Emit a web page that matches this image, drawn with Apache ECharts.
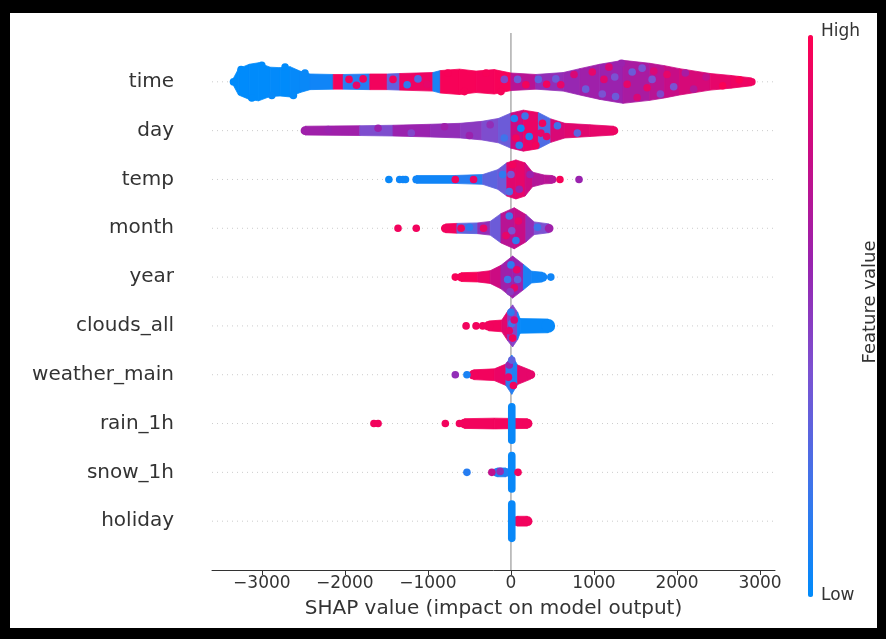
<!DOCTYPE html>
<html>
<head>
<meta charset="utf-8">
<script src="https://cdn.jsdelivr.net/npm/echarts@6/dist/echarts.min.js"></script>
<style>
  html, body { margin: 0; padding: 0; background: #fff; }
  #chart { width: 886px; height: 639px; }
</style>
</head>
<body>
<div id="chart"></div>
<script>
// rows from bottom (0) to top (9)
const features = ["holiday", "snow_1h", "rain_1h", "weather_main", "clouds_all", "year", "month", "temp", "day", "time"];
const xTicks = [-3000, -2000, -1000, 0, 1000, 2000, 3000];

// swarm outline per feature: [shap value, half spread (rows), feature value 0..1]
const timeBand = [
  [-3340, 0.08, 0.0], [-3280, 0.27, 0.0], [-3150, 0.36, 0.0], [-3040, 0.39, 0.0], [-2900, 0.30, 0.01],
  [-2780, 0.29, 0.0], [-2660, 0.31, 0.02], [-2540, 0.22, 0.03], [-2420, 0.16, 0.05], [-2140, 0.15, 0.96],
  [-2020, 0.15, 0.12], [-1700, 0.16, 0.95], [-1490, 0.16, 0.32], [-1340, 0.17, 0.93], [-940, 0.19, 0.08],
  [-850, 0.23, 0.97], [-620, 0.26, 0.97], [-420, 0.22, 0.96], [-200, 0.25, 0.97], [0, 0.18, 0.72],
  [300, 0.15, 0.55], [630, 0.19, 0.58], [830, 0.27, 0.62], [1070, 0.36, 0.6], [1350, 0.44, 0.66],
  [1670, 0.38, 0.72], [1850, 0.33, 0.78], [2030, 0.27, 0.84], [2400, 0.17, 0.9], [2650, 0.13, 0.93],
  [2900, 0.08, 0.94],
];
const dayBand = [
  [-2480, 0.09, 0.62], [-1820, 0.1, 0.42], [-1420, 0.11, 0.6], [-970, 0.13, 0.55], [-610, 0.15, 0.5],
  [-350, 0.19, 0.42], [-150, 0.25, 0.35], [0, 0.36, 0.8], [150, 0.42, 0.92], [330, 0.37, 0.25],
  [480, 0.24, 0.85], [650, 0.15, 0.88], [950, 0.12, 0.9], [1240, 0.09, 0.93],
];
const tempBand = [
  [-1140, 0.08, 0.05], [-700, 0.08, 0.12], [-340, 0.1, 0.3], [-160, 0.2, 0.35], [-50, 0.34, 0.88],
  [60, 0.4, 0.9], [170, 0.34, 0.8], [260, 0.15, 0.7], [400, 0.09, 0.72], [500, 0.08, 0.7],
];
const monthBand = [
  [-790, 0.09, 0.95], [-650, 0.1, 0.3], [-400, 0.11, 0.55], [-250, 0.14, 0.35], [-120, 0.3, 0.72],
  [40, 0.42, 0.78], [180, 0.28, 0.55], [280, 0.13, 0.4], [460, 0.09, 0.62],
];
const yearBand = [
  [-600, 0.09, 0.97], [-400, 0.1, 0.92], [-250, 0.13, 0.8], [-120, 0.24, 0.62], [20, 0.43, 0.6],
  [150, 0.26, 0.08], [250, 0.12, 0.05], [380, 0.1, 0.05],
];
const cloudsBand = [
  [-270, 0.1, 0.95], [-110, 0.12, 0.88], [-40, 0.3, 0.5], [20, 0.43, 0.45], [80, 0.28, 0.05],
  [110, 0.15, 0.02], [450, 0.14, 0.02],
];
const weatherBand = [
  [-450, 0.1, 0.95], [-200, 0.12, 0.92], [-60, 0.22, 0.15], [10, 0.4, 0.1], [80, 0.2, 0.9], [240, 0.09, 0.9],
];
const rainBand = [[-560, 0.1, 0.95], [-200, 0.11, 0.95], [200, 0.1, 0.95]];
const snowBand = [[-170, 0.09, 0.1], [-60, 0.09, 0.1]];
const holidayBand = [[70, 0.1, 0.95], [200, 0.1, 0.95]];

// single points: [shap value, offset (rows), feature value]
const timeDots = [
  [-3250, 0.25, 0.0], [-3120, -0.33, 0.0], [-3000, 0.34, 0.0], [-2880, -0.28, 0.02], [-2720, 0.3, 0.0],
  [-2620, -0.28, 0.02], [-2480, 0.18, 0.03], [-1950, 0.05, 0.95], [-1860, -0.07, 0.9], [-1780, 0.06, 0.95],
  [-1420, 0.05, 0.95], [-1250, -0.06, 0.15], [-1120, 0.06, 0.25], [-1010, -0.05, 0.9], [-760, 0.18, 0.97],
  [-560, -0.2, 0.97], [-300, 0.18, 0.97], [-120, -0.2, 0.97], [-80, 0.05, 0.45], [80, 0.05, 0.35],
  [180, -0.06, 0.95], [330, 0.05, 0.3], [430, -0.05, 0.95], [540, 0.06, 0.35], [600, -0.06, 0.9],
  [760, 0.15, 0.85], [900, -0.15, 0.35], [980, 0.2, 0.9], [1100, -0.25, 0.4], [1180, 0.3, 0.85],
  [1260, -0.3, 0.35], [1330, 0.38, 0.6], [1400, -0.05, 0.9], [1460, 0.2, 0.35], [1520, -0.32, 0.85],
  [1580, 0.28, 0.4], [1640, -0.12, 0.9], [1720, 0.22, 0.85], [1800, -0.25, 0.45], [1880, 0.15, 0.9],
  [1960, -0.1, 0.4], [1250, 0.1, 0.4], [1120, 0.05, 0.88], [1700, 0.05, 0.4], [2100, 0.18, 0.65],
  [2200, -0.15, 0.7], [2350, 0.1, 0.75], [2550, -0.08, 0.98], [2750, 0.04, 0.98],
];
const dayDots = [
  [-2200, 0.02, 0.6], [-1600, 0.05, 0.6], [-1200, -0.05, 0.45], [-800, 0.08, 0.62], [-500, -0.1, 0.6],
  [-250, 0.12, 0.55], [-80, -0.15, 0.2], [40, 0.25, 0.1], [100, -0.3, 0.15], [170, 0.3, 0.2],
  [220, -0.12, 0.1], [120, 0.05, 0.05], [260, 0.28, 0.9], [300, -0.3, 0.95], [380, 0.15, 0.95],
  [430, -0.12, 0.9], [360, -0.05, 0.9], [60, -0.15, 0.95], [560, 0.1, 0.2], [800, -0.05, 0.3],
];
const tempDots = [
  [-1470, 0, 0.03], [-1340, 0, 0.04], [-1300, 0, 0.05], [-1270, 0, 0.04], [-670, 0, 0.95], [-450, 0, 0.92],
  [590, 0, 0.97], [820, 0, 0.6], [-100, 0.1, 0.15], [-20, -0.25, 0.25], [20, 0.3, 0.95], [0, 0.1, 0.4],
  [100, -0.2, 0.6], [230, 0.1, 0.6],
];
const monthDots = [
  [-1360, 0, 0.95], [-1140, 0, 0.95], [-600, 0, 0.95], [-500, 0.02, 0.15], [-330, 0, 0.9], [-20, 0.25, 0.2],
  [60, -0.25, 0.15], [10, -0.05, 0.4], [90, 0.15, 0.9], [-60, -0.15, 0.9], [320, 0.02, 0.2],
];
const yearDots = [
  [-670, 0, 0.97], [480, 0, 0.05], [0, 0.25, 0.15], [40, -0.22, 0.9], [-40, -0.05, 0.2], [70, 0.15, 0.9],
  [-10, -0.3, 0.5], [80, -0.05, 0.3],
];
const cloudsDots = [
  [-540, 0, 0.95], [-420, 0, 0.95], [-340, 0, 0.95], [0, 0.28, 0.15], [20, -0.25, 0.95], [10, 0.05, 0.2],
  [40, 0.12, 0.85], [-20, -0.1, 0.9],
];
const weatherDots = [
  [-670, 0, 0.55], [-530, 0, 0.08], [-20, 0.2, 0.6], [30, -0.22, 0.95], [10, 0.3, 0.3], [-30, -0.05, 0.9],
];
const rainDots = [[-1650, 0, 0.95], [-1600, 0, 0.95], [-790, 0, 0.95], [-620, 0, 0.95]];
const snowDots = [[-530, 0, 0.12], [-230, 0, 0.75], [85, 0, 0.95], [-130, 0.02, 0.55]];
const holidayDots = [];

// vertical stacks of points at zero: [feature, shap value, half spread (rows), feature value]
const stackColumns = [
  ["rain_1h", 10, 0.42, 0.03], ["snow_1h", 10, 0.42, 0.03], ["holiday", 10, 0.43, 0.03],
];

const X_MIN = -3600, X_MAX = 3180;
const DOT_R = 3.8;
const FONT = "DejaVu Sans";

const bandList = [
  ["time", timeBand], ["day", dayBand], ["temp", tempBand], ["month", monthBand], ["year", yearBand],
  ["clouds_all", cloudsBand], ["weather_main", weatherBand], ["rain_1h", rainBand], ["snow_1h", snowBand],
  ["holiday", holidayBand],
];
const dotList = [
  ["time", timeDots], ["day", dayDots], ["temp", tempDots], ["month", monthDots], ["year", yearDots],
  ["clouds_all", cloudsDots], ["weather_main", weatherDots], ["rain_1h", rainDots], ["snow_1h", snowDots],
  ["holiday", holidayDots],
];

const segData = [], capData = [], dotData = [];
bandList.forEach(([name, band]) => {
  const r = features.indexOf(name);
  for (let i = 0; i < band.length - 1; i++) {
    segData.push([band[i][2], r, band[i][0], band[i][1], band[i + 1][0], band[i + 1][1]]);
  }
  const a = band[0], b = band[band.length - 1];
  capData.push([a[2], r, a[0], a[1]]);
  capData.push([b[2], r, b[0], b[1]]);
});
dotList.forEach(([name, list]) => {
  const r = features.indexOf(name);
  list.forEach(d => dotData.push([d[2], r, d[0], d[1]]));
});
const colData = stackColumns.map(c => [c[3], features.indexOf(c[0]), c[1], c[2]]);

const chart = echarts.init(document.getElementById("chart"));

chart.setOption({
  animation: false,
  backgroundColor: "#fff",
  grid: { left: 212, right: 111, top: 33, bottom: 69 },
  xAxis: {
    type: "value", min: X_MIN, max: X_MAX,
    name: "SHAP value (impact on model output)", nameLocation: "middle", nameGap: 29,
    nameTextStyle: { fontFamily: FONT, fontSize: 20, color: "#333" },
    axisLine: { show: true, onZero: false, lineStyle: { color: "#333", width: 1 } },
    axisTick: { show: true, customValues: xTicks, length: 5, lineStyle: { color: "#333" } },
    axisLabel: {
      customValues: xTicks, fontFamily: FONT, fontSize: 17, color: "#333", margin: 5,
      formatter: v => String(v).replace("-", "\u2212"),
    },
    splitLine: { show: false },
  },
  yAxis: {
    type: "value", min: -1, max: 10, interval: 1,
    axisLine: { show: false }, axisTick: { show: false }, splitLine: { show: false },
    axisLabel: {
      fontFamily: FONT, fontSize: 20, color: "#333", margin: 38,
      formatter: v => features[v] || "",
    },
  },
  visualMap: {
    type: "continuous", min: 0, max: 1, dimension: 0, seriesIndex: [2, 3, 4, 5],
    show: true, calculable: false, hoverLink: false, orient: "vertical",
    left: 793, top: 20, itemWidth: 5, itemHeight: 562, text: null,
    inRange: { color: ["#008bfb", "#3f74ea", "#7b52d2", "#9a22ae", "#cc0b82", "#ff0051"] },
  },
  graphic: [
    { type: "rect", shape: { x: 0, y: 0, width: 886, height: 13 }, style: { fill: "#000" }, z: 100 },
    { type: "rect", shape: { x: 0, y: 0, width: 10, height: 639 }, style: { fill: "#000" }, z: 100 },
    { type: "rect", shape: { x: 877, y: 0, width: 9, height: 639 }, style: { fill: "#000" }, z: 100 },
    { type: "rect", shape: { x: 0, y: 628, width: 886, height: 11 }, style: { fill: "#000" }, z: 100 },
    { type: "text", left: 821, top: 23, style: { text: "High", fontFamily: FONT, fontSize: 17, fill: "#333" } },
    { type: "text", left: 821, top: 587, style: { text: "Low", fontFamily: FONT, fontSize: 17, fill: "#333" } },
    {
      type: "text", x: 870, y: 302, rotation: Math.PI / 2,
      style: { text: "Feature value", fontFamily: FONT, fontSize: 18, fill: "#333", align: "center", verticalAlign: "middle" },
    },
  ],
  series: [
    {
      // dotted guide line for each feature row
      type: "custom", z: 1, silent: true,
      data: features.map((f, i) => [i]),
      encode: { y: 0 },
      renderItem: (params, api) => {
        const r = api.value(0);
        const p0 = api.coord([X_MIN, r]), p1 = api.coord([X_MAX, r]);
        return {
          type: "line", shape: { x1: p0[0], y1: p0[1], x2: p1[0], y2: p1[1] },
          style: { stroke: "#cccccc", lineWidth: 1, lineDash: [1, 4] },
        };
      },
    },
    {
      // zero line
      type: "custom", z: 1, silent: true,
      data: [[0]],
      encode: { x: 0 },
      renderItem: (params, api) => {
        const p0 = api.coord([api.value(0), -1]), p1 = api.coord([api.value(0), 10]);
        return {
          type: "line", shape: { x1: p0[0], y1: p0[1], x2: p1[0], y2: p1[1] },
          style: { stroke: "#999999", lineWidth: 1.2 },
        };
      },
    },
    {
      // swarm body
      type: "custom", z: 3, silent: true,
      data: segData,
      encode: { x: 2, y: 1 },
      renderItem: (params, api) => {
        const c = api.visual("color");
        const r = api.value(1), x0 = api.value(2), s0 = api.value(3), x1 = api.value(4), s1 = api.value(5);
        const pts = [api.coord([x0, r + s0]), api.coord([x1, r + s1]), api.coord([x1, r - s1]), api.coord([x0, r - s0])];
        return { type: "polygon", shape: { points: pts }, style: { fill: c, stroke: c, lineWidth: 0.8 } };
      },
    },
    {
      // rounded swarm ends
      type: "custom", z: 3, silent: true,
      data: capData,
      encode: { x: 2, y: 1 },
      renderItem: (params, api) => {
        const c = api.visual("color");
        const r = api.value(1), x = api.value(2), s = api.value(3);
        const p = api.coord([x, r]), q = api.coord([x, r + s]);
        return { type: "circle", shape: { cx: p[0], cy: p[1], r: Math.abs(p[1] - q[1]) }, style: { fill: c } };
      },
    },
    {
      // stacked points at zero
      type: "custom", z: 4, silent: true,
      data: colData,
      encode: { x: 2, y: 1 },
      renderItem: (params, api) => {
        const c = api.visual("color");
        const r = api.value(1), x = api.value(2), s = api.value(3);
        const top = api.coord([x, r + s]), bot = api.coord([x, r - s]);
        return {
          type: "rect",
          shape: { x: top[0] - DOT_R, y: top[1], width: DOT_R * 2, height: bot[1] - top[1], r: DOT_R },
          style: { fill: c },
        };
      },
    },
    {
      // single points
      type: "custom", z: 5, silent: true,
      data: dotData,
      encode: { x: 2, y: 1 },
      renderItem: (params, api) => {
        const c = api.visual("color");
        const p = api.coord([api.value(2), api.value(1) + api.value(3)]);
        return { type: "circle", shape: { cx: p[0], cy: p[1], r: DOT_R }, style: { fill: c } };
      },
    },
  ],
});
</script>
</body>
</html>
